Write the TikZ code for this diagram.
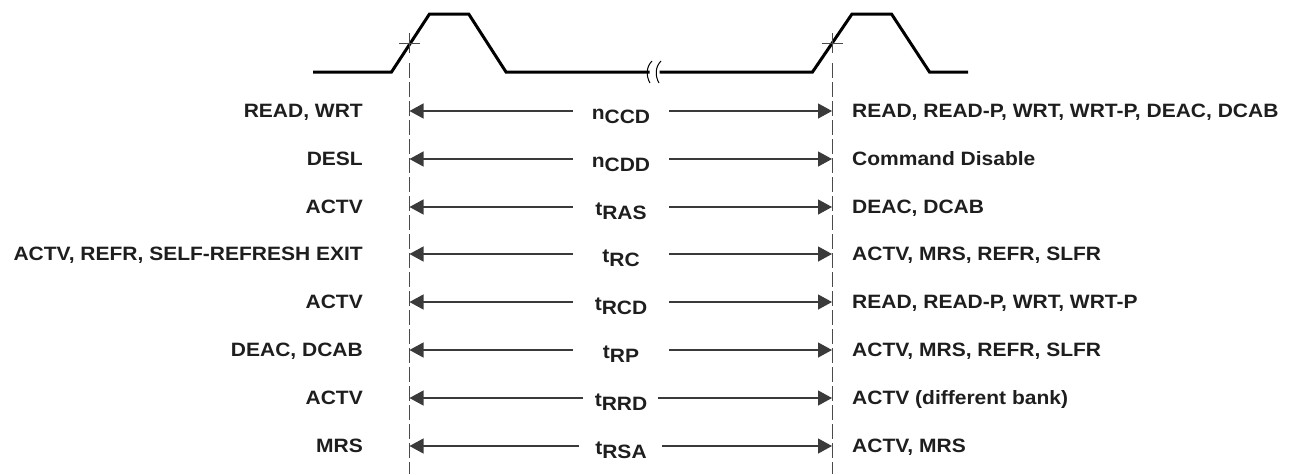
\documentclass[tikz,border=0pt]{standalone}
\usepackage{fontspec}
\setmainfont{Liberation Sans}
\usepackage{graphicx}
\usetikzlibrary{arrows.meta}
\definecolor{ink}{HTML}{1E1E1E}
\definecolor{lnc}{HTML}{3A3A3A}
\definecolor{dsh}{HTML}{4A4A4A}
\newcommand\sbx[1]{\scalebox{1}[0.92]{#1}}
\newcommand\tsub[2]{\sbx{#1\raisebox{-5.4pt}{#2}}}
\tikzset{
  lbl/.style={font=\fontsize{21}{24}\selectfont\bfseries, text=ink, inner sep=0pt},
  arr/.style={draw=lnc, line width=1.2pt, -{Triangle[length=14pt,width=15pt]}},
  wave/.style={line width=3pt, line join=miter, draw=black},
  tick/.style={line width=1pt, draw=dsh},
  guide/.style={line width=1pt, draw=dsh, dash pattern=on 15pt off 4pt},
  brk/.style={line width=1pt, draw=black}
}
\begin{document}
\begin{tikzpicture}[x=1pt,y=-1pt]
\useasboundingbox (0,0) rectangle (1292,474);
% waveform
\draw[wave] (313,72) -- (391.5,72) -- (429.5,14) -- (468.7,14) -- (506,72) -- (649.5,72);
\draw[wave] (659.5,72) -- (812.5,72) -- (852,14) -- (891.5,14) -- (929.5,72) -- (968,72);
% break mark
\draw[brk] (652,61) .. controls (646,67) and (646,76) .. (650,83);
\draw[brk] (661,61) .. controls (655,67) and (655,76) .. (659,83);
% reference lines
\coordinate (ta) at (409.5,33); \coordinate (tb) at (409.5,53);
\coordinate (ha) at (399,43); \coordinate (hb) at (420,43);
\coordinate (ga) at (409.5,63); \coordinate (gb) at (409.5,474);
\coordinate (tc) at (832,33); \coordinate (td) at (832,53);
\coordinate (hc) at (821.5,43); \coordinate (hd) at (842.5,43);
\coordinate (gc) at (832,63); \coordinate (gd) at (832,474);
\draw[tick] (ta) -- (tb); \draw[tick] (ha) -- (hb);
\draw[tick] (tc) -- (td); \draw[tick] (hc) -- (hd);
\draw[guide] (ga) -- (gb);
\draw[guide] (gc) -- (gd);
% rows
\foreach \i/\y/\l/\p/\s/\r/\gl/\gr in {
  1/111/{READ, WRT}/n/CCD/{READ, READ-P, WRT, WRT-P, DEAC, DCAB}/573/669,
  2/159/{DESL}/n/CDD/{Command Disable}/573/669,
  3/207/{ACTV}/t/RAS/{DEAC, DCAB}/573/669,
  4/254/{ACTV, REFR, SELF-REFRESH EXIT}/t/RC/{ACTV, MRS, REFR, SLFR}/573/669,
  5/302/{ACTV}/t/RCD/{READ, READ-P, WRT, WRT-P}/573/669,
  6/350/{DEAC, DCAB}/t/RP/{ACTV, MRS, REFR, SLFR}/573/669,
  7/398/{ACTV}/t/RRD/{ACTV (different bank)}/583/658,
  8/446/{MRS}/t/RSA/{ACTV, MRS}/579/662}{
  \node[lbl, anchor=base east] (l\i) at (363,\y+6) {\sbx{\l}};
  \node[lbl, anchor=base west] (r\i) at (852,\y+6) {\sbx{\r}};
  \node[lbl, anchor=base] (m\i) at (621,\y+8) {\tsub{\p}{\s}};
  \coordinate (L\i) at (409.5,\y);
  \coordinate (R\i) at (832,\y);
  \coordinate (gl\i) at (\gl,\y);
  \coordinate (gr\i) at (\gr,\y);
  \draw[arr] (gl\i) -- (L\i);
  \draw[arr] (gr\i) -- (R\i);
}
\end{tikzpicture}
\end{document}
